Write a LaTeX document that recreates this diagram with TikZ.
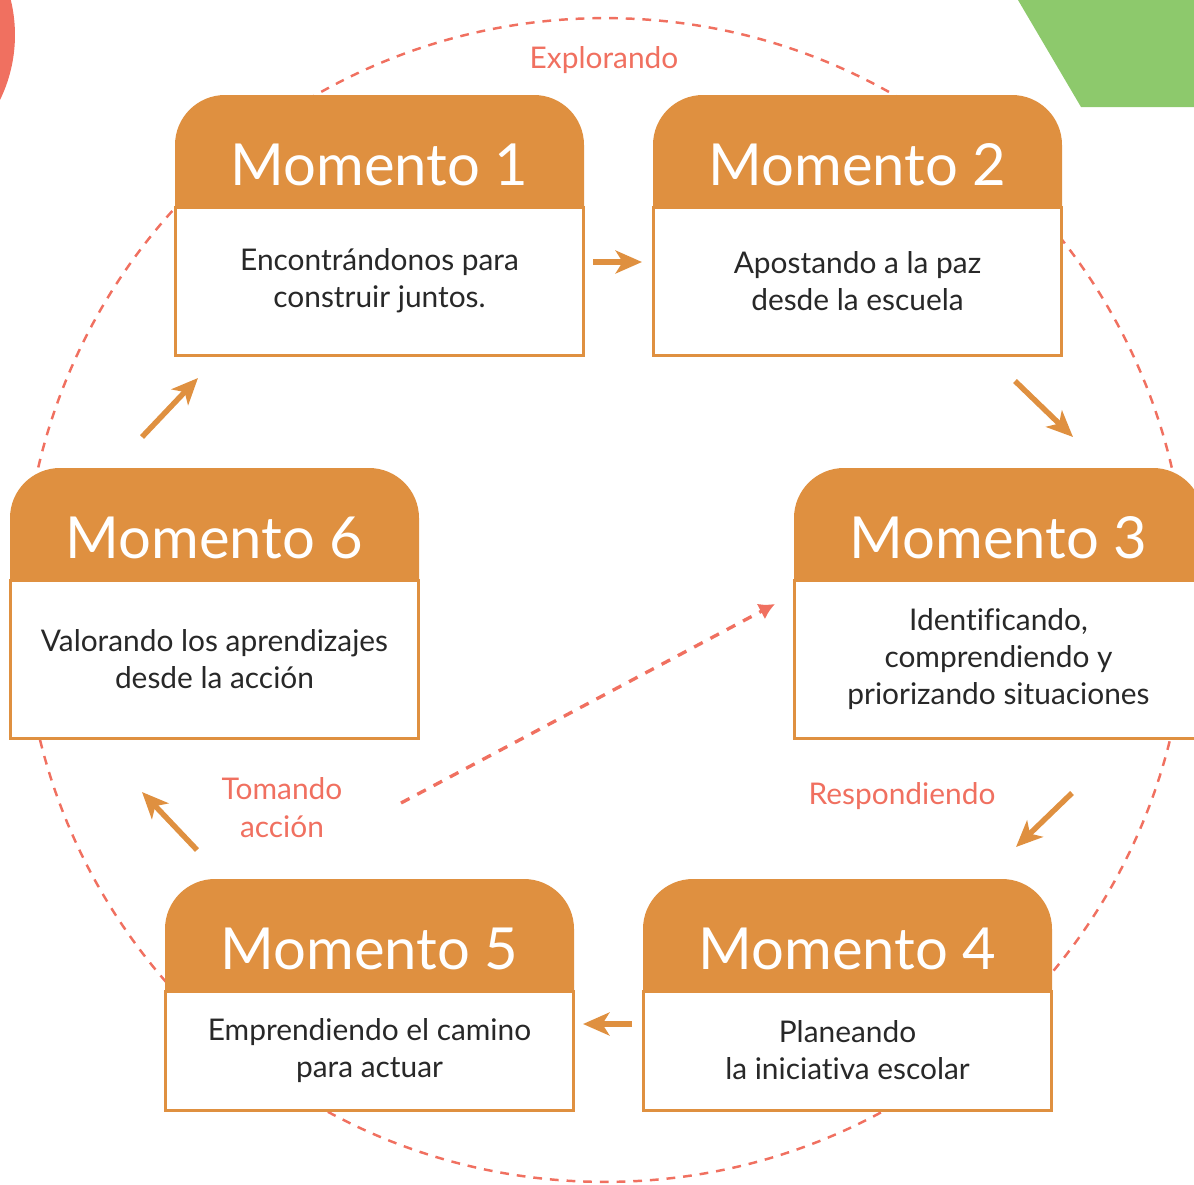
\documentclass[tikz,border=0pt]{standalone}
\usepackage{fontspec}
\setmainfont[Ligatures=NoCommon]{Lato}
\usetikzlibrary{arrows.meta,positioning,backgrounds}

\definecolor{momorange}{RGB}{223,144,64}
\definecolor{cyclered}{RGB}{240,112,96}
\definecolor{cornergreen}{RGB}{141,201,108}
\definecolor{bodytext}{RGB}{40,40,40}

\begin{document}
\begin{tikzpicture}
    [x=0.02cm, y=-0.02cm, every node/.style={font=\fontsize{17}{21}\selectfont}]
    \tikzset{edge/.style = {draw=momorange, line width=3.1pt, -{Stealth[length=15pt,width=13pt,inset=4pt]}},
             jump/.style = {draw=cyclered, line width=1.9pt, dash pattern=on 5.5pt off 5pt, -{Latex[length=9pt,width=10pt]}},
             header/.style = {text=white, inner sep=0pt, font=\fontsize{33}{36}\selectfont},
             body/.style = {draw=momorange, line width=1.7pt, fill=white, inner sep=0pt, minimum width=8.18cm, align=center, text=bodytext},
             stage/.style = {text=cyclered, align=center}}
    \clip (0,0) rectangle (1194,1184);

    % corner decorations
    \fill[cyclered] (-133,35) circle (2.96cm);
    \fill[cornergreen] (1018,0) -- (1194,0) -- (1194,107) -- (1081,107) -- cycle;

    % the cycle
    \draw[cyclered, line width=1.4pt, dash pattern=on 5pt off 4.5pt] (605,600) circle (11.64cm);

    % moments
    \foreach \n/\x/\y/\b/\txt in {1/175/95/148/{Encontrándonos para\\construir juntos.},
                                  2/653/95/148/{Apostando a la paz\\desde la escuela},
                                  3/794/468/158/{Identificando,\\comprendiendo y\\priorizando situaciones},
                                  4/643/879/119/{Planeando\\la iniciativa escolar},
                                  5/165/879/119/{Emprendiendo el camino\\para actuar},
                                  6/10/468/158/{Valorando los aprendizajes\\desde la acción}}
    {
        \fill[momorange, rounded corners=1cm] (\x,\y+113) -- (\x,\y) -- (\x+409,\y) -- (\x+409,\y+113);
        \node[header] (h\n) at (\x+204.5,\y+70) {Momento \n};
        \node[body, minimum height=\b*0.02cm] (m\n) at (\x+204.5,\y+112+\b/2) {\txt};
    }

    % arrow ends
    \foreach \name/\px/\py in {s12/593/262, e12/642/262, s23/1015/381, e23/1073/437,
                               s34/1072/793, e34/1016/847, s45/632/1024, e45/583/1024,
                               s56/197/850, e56/142/792, s61/142/437, e61/198/378,
                               s63/401/803, e63/775/604}
        \coordinate (\name) at (\px,\py);

    \foreach \from/\to in {s12/e12,s23/e23,s34/e34,s45/e45,s56/e56,s61/e61}
        \draw[edge] (\from) -- (\to);
    \draw[jump] (s63) -- (e63);

    % stage names
    \node[stage] (explore) at (604,60) {Explorando};
    \node[stage] (respond) at (902,796) {Respondiendo};
    \node[stage, font=\fontsize{17}{21.6}\selectfont] (act) at (282,808) {Tomando\\acción};
\end{tikzpicture}
\end{document}
